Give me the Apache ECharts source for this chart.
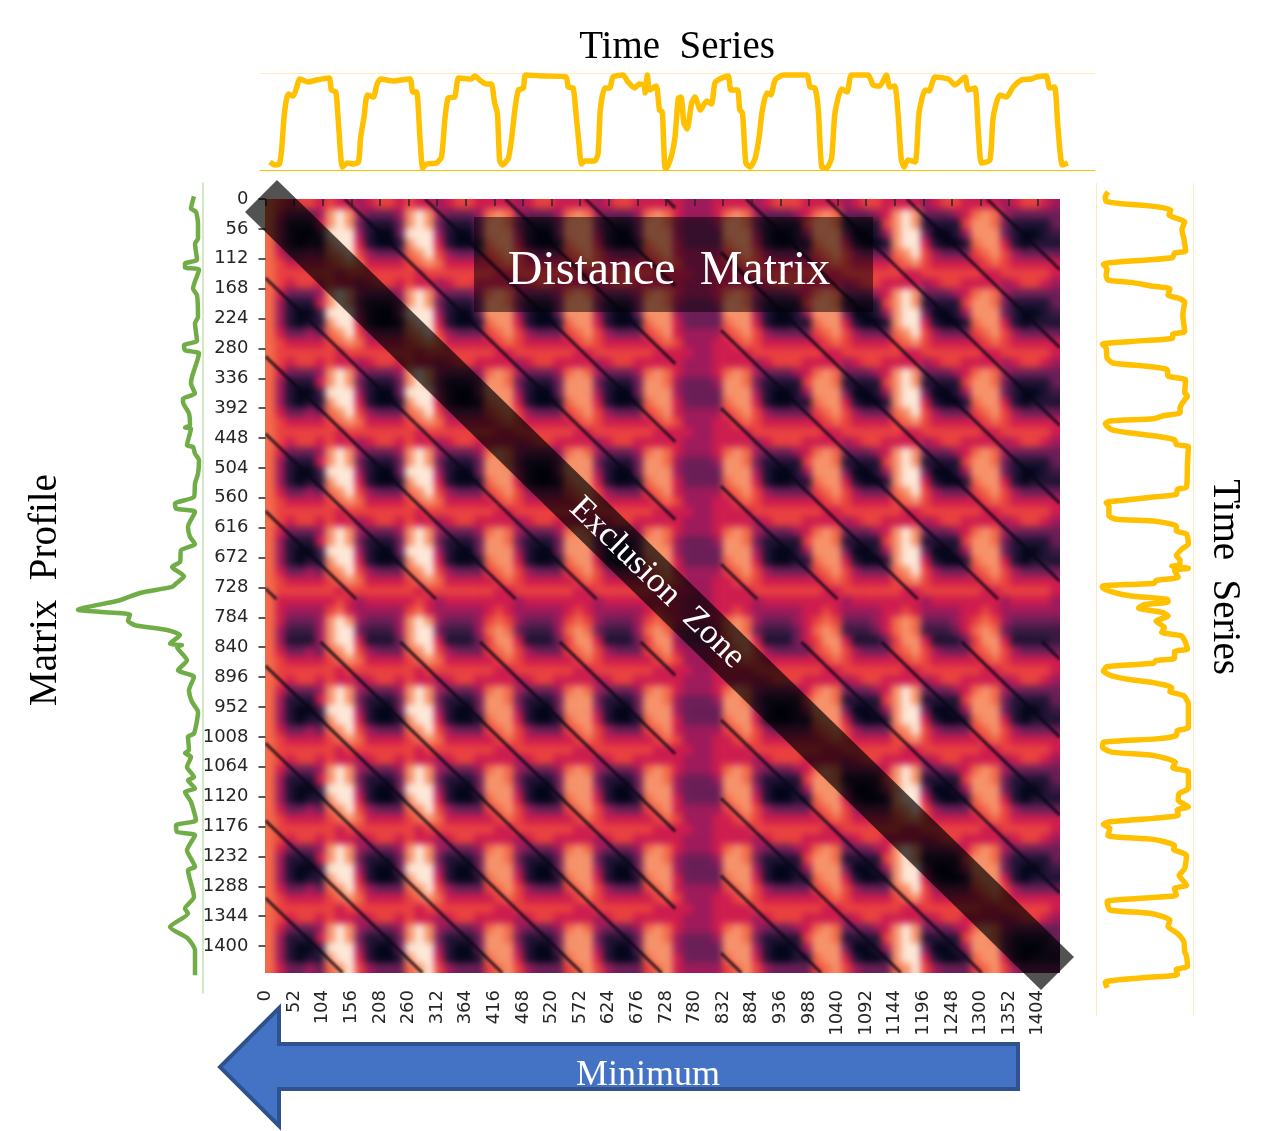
<!DOCTYPE html>
<html><head><meta charset="utf-8">
<style>
html,body{margin:0;padding:0;background:#fff}
#c{width:1270px;height:1131px;background:#fff}
#c canvas[data-zr-dom-id="zr_0"]{filter:blur(3.5px);clip-path:inset(199px 210px 158px 265.5px)}
#c canvas[data-zr-dom-id="zr_1"]{filter:blur(0.8px);clip-path:inset(199px 210px 158px 265.5px)}
</style>
<script src="https://cdn.jsdelivr.net/npm/echarts@6/dist/echarts.min.js"></script>
</head><body><div id="c"></div>
<script>
const tsSamples=[0,9,17,21,25,29,33,42,48,54,69,84,107,111,119,123,128,131,140,151,160,164,170,176,187,193,200,223,253,258,265,271,276,283,301,310,316,322,334,341,364,370,379,391,400,406,411,415,420,431,437,443,449,458,462,494,535,539,548,553,559,563,569,587,593,597,605,614,620,638,647,659,667,676,678,682,686,698,704,709,714,717,726,732,738,743,748,754,762,768,778,789,798,804,813,828,833,845,849,854,860,868,877,884,889,898,905,913,928,970,976,985,991,997,1006,1015,1021,1033,1043,1051,1081,1090,1102,1114,1120,1129,1135,1141,1146,1153,1166,1173,1184,1191,1202,1226,1238,1256,1262,1274,1280,1286,1301,1307,1319,1331,1343,1358,1376,1385,1403,1409,1418,1424,1432,1442];
const tsValues=[8,5,6,20,50,68,76,74,82,91,88,90,92,80,78,53,13,3,7,6,8,33,53,75,73,85,91,89,91,78,78,33,2,6,7,13,50,72,73,92,91,94,90,86,86,67,57,10,5,12,33,62,80,82,95,94,93,83,82,57,23,6,9,9,17,60,82,82,93,95,88,82,86,85,77,95,80,84,60,58,2,2,15,33,72,73,47,41,67,73,60,69,66,87,91,94,80,80,60,57,7,3,12,33,57,77,75,90,95,95,83,82,60,3,2,12,57,81,78,95,95,85,84,95,83,84,57,10,3,10,8,57,80,79,93,91,85,93,80,82,40,7,10,53,75,73,83,90,91,93,94,82,83,43,5,7];
const mpSamples=[2,24,30,51,78,87,116,123,130,134,168,180,219,231,262,270,279,285,327,339,357,366,372,393,414,418,420,450,453,465,477,501,519,543,555,564,570,597,615,628,639,660,669,686,699,705,716,729,746,755,766,774,783,792,807,810,813,837,855,867,891,912,930,969,975,999,1004,1011,1029,1047,1053,1068,1074,1092,1125,1134,1146,1152,1179,1209,1215,1263,1284,1293,1317,1338,1359,1404];
const mpValues=[9,12,7,5,5,8,6,18,18,4,10,6,5,8,6,19,18,4,11,12,8,20,20,14,13,18,12,16,10,8,4,5,8,9,28,27,8,15,13,8,22,23,31,19,27,31,63,83,125,73,75,68,35,23,33,21,26,16,25,9,14,11,5,9,15,14,18,12,16,9,15,8,18,12,7,27,26,8,16,8,15,9,18,15,33,15,8,8];
const xTickLabels=[0,52,104,156,208,260,312,364,416,468,520,572,624,676,728,780,832,884,936,988,1040,1092,1144,1196,1248,1300,1352,1404];
const yTickLabels=[0,56,112,168,224,280,336,392,448,504,560,616,672,728,784,840,896,952,1008,1064,1120,1176,1232,1288,1344,1400];
const valleyLags=[-1310,-1165,-1020,-875,-730,-585,-440,-295,-148,144,290,436,582,728,874,1020,1166,1312];
const faintRows=[750,830];
const faintCols=[745,828];
const matrixRows=[
'765665 655 45665 655 45665 555 45665 555 45665 555 54445 555 456665 555 45665 555 45665 555 456654',
'753334 898 43334 898 43334 787 43334 787 43334 787 54445 787 433345 787 33345 898 33345 787 433333',
'741115 898 31113 898 31113 887 31113 888 31113 887 43334 887 311116 887 11116 898 11116 887 311113',
'741002 999 41003 999 41003 888 41003 888 41003 888 43333 888 410014 888 30014 899 30014 888 310012',
'741011 899 51001 899 51001 788 51001 788 51001 788 53333 788 510011 788 51001 899 51001 788 510111',
'753343 789 64333 789 64333 678 64333 678 64333 678 54444 678 643333 678 64333 789 64333 678 643333',
'765555 678 75555 678 75555 567 65555 567 65555 567 64445 567 655555 567 65555 678 65555 567 655555',
'766666 656 66666 656 66666 655 66666 655 66666 655 55445 555 666666 655 66666 655 66666 655 666665',
'765665 655 45665 655 45665 555 45665 555 45665 555 54445 555 456665 555 45665 555 45665 555 456654',
'753334 898 43334 898 43334 787 43334 787 43334 787 54445 787 433345 787 33345 898 33345 787 433333',
'741115 898 31113 898 31113 887 31113 888 31113 887 43334 887 311116 887 11116 898 11116 887 311113',
'741002 999 41003 999 41003 888 41003 888 41003 888 43333 888 410014 888 30014 899 30014 888 310012',
'741011 899 51001 899 51001 788 51001 788 51001 788 53333 788 510011 788 51001 899 51001 788 510111',
'753343 789 64333 789 64333 678 64333 678 64333 678 54444 678 643333 678 64333 789 64333 678 643333',
'765555 678 75555 678 75555 567 65555 567 65555 567 64445 567 655555 567 65555 678 65555 567 655555',
'766666 656 66666 656 66666 655 66666 655 66666 655 55445 555 666666 655 66666 655 66666 655 666665',
'765665 655 45665 655 45665 555 45665 555 45665 555 54445 555 456665 555 45665 555 45665 555 456654',
'753334 898 43334 898 43334 787 43334 787 43334 787 54445 787 433345 787 33345 898 33345 787 433333',
'741115 898 31113 898 31113 887 31113 888 31113 887 43334 887 311116 887 11116 898 11116 887 311113',
'741002 999 41003 999 41003 888 41003 888 41003 888 43333 888 410014 888 30014 899 30014 888 310012',
'741011 899 51001 899 51001 788 51001 788 51001 788 53333 788 510011 788 51001 899 51001 788 510111',
'753343 789 64333 789 64333 678 64333 678 64333 678 54444 678 643333 678 64333 789 64333 678 643333',
'765555 678 75555 678 75555 567 65555 567 65555 567 64445 567 655555 567 65555 678 65555 567 655555',
'766666 656 66666 656 66666 655 66666 655 66666 655 55445 555 666666 655 66666 655 66666 655 666665',
'765665 655 45665 655 45665 555 45665 555 45665 555 54445 555 456665 555 45665 555 45665 555 456654',
'753334 898 43334 898 43334 787 43334 787 43334 787 54445 787 433345 787 33345 898 33345 787 433333',
'741115 898 31113 898 31113 887 31113 888 31113 887 43334 887 311116 887 11116 898 11116 887 311113',
'741002 999 41003 999 41003 888 41003 888 41003 888 43333 888 410014 888 30014 899 30014 888 310012',
'741011 899 51001 899 51001 788 51001 788 51001 788 53333 788 510011 788 51001 899 51001 788 510111',
'753343 789 64333 789 64333 678 64333 678 64333 678 54444 678 643333 678 64333 789 64333 678 643333',
'765555 678 75555 678 75555 567 65555 567 65555 567 64445 567 655555 567 65555 678 65555 567 655555',
'766666 656 66666 656 66666 655 66666 655 66666 655 55445 555 666666 655 66666 655 66666 655 666665',
'765665 655 45665 655 45665 555 45665 555 45665 555 54445 555 456665 555 45665 555 45665 555 456654',
'753334 898 43334 898 43334 787 43334 787 43334 787 54445 787 433345 787 33345 898 33345 787 433333',
'741115 898 31113 898 31113 887 31113 888 31113 887 43334 887 311116 887 11116 898 11116 887 311113',
'741002 999 41003 999 41003 888 41003 888 41003 888 43333 888 410014 888 30014 899 30014 888 310012',
'741011 899 51001 899 51001 788 51001 788 51001 788 53333 788 510011 788 51001 899 51001 788 510111',
'753343 789 64333 789 64333 678 64333 678 64333 678 54444 678 643333 678 64333 789 64333 678 643333',
'765555 678 75555 678 75555 567 65555 567 65555 567 64445 567 655555 567 65555 678 65555 567 655555',
'766666 656 66666 656 66666 655 66666 655 66666 655 55445 555 666666 655 66666 655 66666 655 666665',
'755555 565 45555 565 45555 555 45555 555 45555 555 54445 555 455555 555 45555 555 45555 555 455554',
'754444 675 44444 675 44444 565 44444 565 44444 565 54445 565 444445 565 44445 565 44445 565 444444',
'753334 898 43334 898 43334 676 43334 676 43334 676 54445 787 433345 676 33345 787 33345 676 433333',
'742224 899 32224 899 32224 787 32224 787 32224 787 43334 787 322235 787 22235 787 22235 787 322222',
'741114 899 51113 899 51113 688 51113 688 51113 688 43334 688 511135 688 51113 688 51113 688 511112',
'753343 789 64333 789 64333 678 64333 678 64333 678 54444 678 643333 678 64333 678 64333 678 643333',
'765555 678 75555 678 75555 567 65555 567 65555 567 64445 567 655555 567 65555 567 65555 567 655555',
'766666 656 66666 656 66666 655 66666 655 66666 655 55445 555 666666 655 66666 655 66666 655 666665',
'765665 655 45665 655 45665 555 45665 555 45665 555 54445 555 456665 555 45665 555 45665 555 456654',
'753334 898 43334 898 43334 787 43334 787 43334 787 54445 787 433345 787 33345 898 33345 787 433333',
'741115 898 31113 898 31113 887 31113 888 31113 887 43334 887 311116 887 11116 898 11116 887 311113',
'741002 999 41003 999 41003 888 41003 888 41003 888 43333 888 410014 888 30014 899 30014 888 310012',
'741011 899 51001 899 51001 788 51001 788 51001 788 53333 788 510011 788 51001 899 51001 788 510111',
'753343 789 64333 789 64333 678 64333 678 64333 678 54444 678 643333 678 64333 789 64333 678 643333',
'765555 678 75555 678 75555 567 65555 567 65555 567 64445 567 655555 567 65555 678 65555 567 655555',
'766666 656 66666 656 66666 655 66666 655 66666 655 55445 555 666666 655 66666 655 66666 655 666665',
'765665 655 45665 655 45665 555 45665 555 45665 555 54445 555 456665 555 45665 555 45665 555 456654',
'753334 898 43334 898 43334 787 43334 787 43334 787 54445 787 433345 787 33345 898 33345 787 433333',
'741115 898 31113 898 31113 887 31113 888 31113 887 43334 887 311116 887 11116 898 11116 887 311113',
'741002 999 41003 999 41003 888 41003 888 41003 888 43333 888 410014 888 30014 899 30014 888 310012',
'741011 899 51001 899 51001 788 51001 788 51001 788 53333 788 510011 788 51001 899 51001 788 510111',
'753343 789 64333 789 64333 678 64333 678 64333 678 54444 678 643333 678 64333 789 64333 678 643333',
'765555 678 75555 678 75555 567 65555 567 65555 567 64445 567 655555 567 65555 678 65555 567 655555',
'766666 656 66666 656 66666 655 66666 655 66666 655 55445 555 666666 655 66666 655 66666 655 666665',
'765665 655 45665 655 45665 555 45665 555 45665 555 54445 555 456665 555 45665 555 45665 555 456654',
'753334 898 43334 898 43334 787 43334 787 43334 787 54445 787 433345 787 33345 898 33345 787 433333',
'741115 898 31113 898 31113 887 31113 888 31113 887 43334 887 311116 887 11116 898 11116 887 311113',
'741002 999 41003 999 41003 888 41003 888 41003 888 43333 888 410014 888 30014 899 30014 888 310012',
'741011 899 51001 899 51001 788 51001 788 51001 788 53333 788 510011 788 51001 899 51001 788 510111',
'753343 789 64333 789 64333 678 64333 678 64333 678 54444 678 643333 678 64333 789 64333 678 643333',
'765555 678 75555 678 75555 567 65555 567 65555 567 64445 567 655555 567 65555 678 65555 567 655555',
'766666 656 66666 656 66666 655 66666 655 66666 655 55445 555 666666 655 66666 655 66666 655 666665',
'765665 655 45665 655 45665 555 45665 555 45665 555 54445 555 456665 555 45665 555 45665 555 456654',
'753334 898 43334 898 43334 787 43334 787 43334 787 54445 787 433345 787 33345 898 33345 787 433333',
'741115 898 31113 898 31113 887 31113 888 31113 887 43334 887 311116 887 11116 898 11116 887 311113',
'741002 999 41003 999 41003 888 41003 888 41003 888 43333 888 410014 888 30014 899 30014 888 310012',
'741011 899 51001 899 51001 788 51001 788 51001 788 53333 788 510011 788 51001 899 51001 788 510111',
'753343 789 64333 789 64333 678 64333 678 64333 678 54444 678 643333 678 64333 789 64333 678 643333'
];
const rocket=['#03051a','#1f1233','#3b1a42','#6b1e56','#9e1a5b','#cd1c4e','#e9403f','#f26a49','#f6926a','#fde8d8'];

const MAXX=1444.5, MAXY=1450.5;
const cells=[];
const rows=matrixRows.map(r=>r.replace(/ /g,''));
const dy=MAXY/rows.length;
rows.forEach((r,j)=>{const dx=MAXX/r.length;for(let i=0;i<r.length;i++)cells.push([i*dx,j*dy,+r[i],dx,dy,i===0?1:0,i===r.length-1?1:0,j===0?1:0,j===rows.length-1?1:0]);});
const valleySegs=[];
function pushLag(L){
  const x0=Math.max(0,L),x1=Math.min(MAXX,MAXY+L);
  const cuts=[x0,x1,faintCols[0],faintCols[1],faintRows[0]+L,faintRows[1]+L].filter(v=>v>=x0&&v<=x1).sort((a,b)=>a-b);
  for(let k=0;k<cuts.length-1;k++){
    const a=cuts[k],b=cuts[k+1],m=(a+b)/2;
    if(m>faintCols[0]&&m<faintCols[1])continue;
    if(m-L>faintRows[0]&&m-L<faintRows[1])continue;
    valleySegs.push([a,a-L,b,b-L]);
  }
}
valleyLags.forEach(pushLag);

const font='"Liberation Serif","Times New Roman",serif';
const txt=(t,x,y,size,color,rot)=>({type:'text',zlevel:2,z:100,x,y,rotation:rot||0,silent:true,
  style:{text:t,fill:color,font:size+'px '+font,align:'center',verticalAlign:'middle'}});
const tickFont={color:'#262626',fontFamily:'DejaVu Sans',fontSize:18,formatter:v=>String(v)};
const tickLine={color:'#262626',width:1.5};
const hidden={show:false};
const chart=echarts.init(document.getElementById('c'),null,{renderer:'canvas',width:1270,height:1131});
chart.setOption({
  animation:false,
  tooltip:{show:false},
  grid:[
    {left:265.5,top:199,width:794.5,height:774},
    {left:260,top:73,width:835,height:97},
    {left:70,top:183,width:133,height:810},
    {left:1096,top:183,width:97,height:833}
  ],
  xAxis:[
    {gridIndex:0,type:'value',min:0,max:MAXX,zlevel:2,position:'bottom',offset:2,splitLine:hidden,axisLine:hidden,
      axisTick:{show:true,length:7,lineStyle:tickLine,customValues:xTickLabels},
      axisLabel:{...tickFont,rotate:90,margin:15,customValues:xTickLabels}},
    {gridIndex:1,type:'value',min:-18,max:1491,zlevel:2,splitLine:hidden,axisTick:hidden,axisLabel:hidden,
      axisLine:{show:true,onZero:false,lineStyle:{color:'#FFC000',width:1}}},
    {gridIndex:2,type:'value',min:0,max:133,inverse:true,zlevel:2,splitLine:hidden,axisTick:hidden,axisLabel:hidden,axisLine:hidden},
    {gridIndex:3,type:'value',min:-5,max:100,interval:105,zlevel:2,axisTick:hidden,axisLabel:hidden,axisLine:hidden,
      splitLine:{show:true,lineStyle:{color:'#FCEBC0',width:1}}}
  ],
  yAxis:[
    {gridIndex:0,type:'value',min:0,max:MAXY,inverse:true,zlevel:2,splitLine:hidden,axisLine:hidden,
      axisTick:{show:true,length:7,lineStyle:tickLine,customValues:yTickLabels},
      axisLabel:{...tickFont,margin:17,customValues:yTickLabels}},
    {gridIndex:1,type:'value',min:0,max:97,interval:97,zlevel:2,axisTick:hidden,axisLabel:hidden,axisLine:hidden,
      splitLine:{show:true,lineStyle:{color:'#FCEBC0',width:1}}},
    {gridIndex:2,type:'value',min:-22,max:1436,inverse:true,position:'right',zlevel:2,splitLine:hidden,axisTick:hidden,axisLabel:hidden,
      axisLine:{show:true,onZero:false,lineStyle:{color:'#C5E0B4',width:1.5}}},
    {gridIndex:3,type:'value',min:-16,max:1493,inverse:true,zlevel:2,splitLine:hidden,axisTick:hidden,axisLabel:hidden,axisLine:hidden}
  ],
  visualMap:{show:false,type:'continuous',seriesIndex:0,dimension:2,min:0,max:9,inRange:{color:rocket}},
  series:[
    {type:'custom',xAxisIndex:0,yAxisIndex:0,zlevel:0,progressive:0,data:cells,encode:{x:0,y:1},silent:true,
      renderItem(p,api){
        const a=api.coord([api.value(0),api.value(1)]),b=api.coord([api.value(0)+api.value(3),api.value(1)+api.value(4)]);
        const pad=12,l=api.value(5)*pad,r=api.value(6)*pad,t=api.value(7)*pad,d=api.value(8)*pad;
        return {type:'rect',shape:{x:a[0]-l,y:a[1]-t,width:b[0]-a[0]+.6+l+r,height:b[1]-a[1]+.6+t+d},style:{fill:api.visual('color')}};
      }},
    {type:'custom',xAxisIndex:0,yAxisIndex:0,zlevel:1,progressive:0,data:valleySegs,encode:{x:[0,2],y:[1,3]},silent:true,
      renderItem(p,api){
        const a=api.coord([api.value(0),api.value(1)]),b=api.coord([api.value(2),api.value(3)]);
        return {type:'line',shape:{x1:a[0],y1:a[1],x2:b[0],y2:b[1]},style:{stroke:'#0a0618',lineWidth:3,opacity:.8}};
      }},
    {type:'line',xAxisIndex:1,yAxisIndex:1,zlevel:2,showSymbol:false,symbol:'none',clip:false,smooth:0.2,
      data:tsSamples.map((s,i)=>[s,tsValues[i]]),lineStyle:{color:'#FFC000',width:5.5,join:'round'}},
    {type:'line',xAxisIndex:2,yAxisIndex:2,zlevel:2,showSymbol:false,symbol:'none',clip:false,smooth:0.2,
      data:mpSamples.map((s,i)=>[mpValues[i],s]),lineStyle:{color:'#70AD47',width:4.5,join:'round'}},
    {type:'line',xAxisIndex:3,yAxisIndex:3,zlevel:2,showSymbol:false,symbol:'none',clip:false,smooth:0.2,
      data:tsSamples.map((s,i)=>[tsValues[i],s]),lineStyle:{color:'#FFC000',width:5.5,join:'round'}}
  ],
  graphic:{elements:[
    {type:'polygon',zlevel:2,z:50,silent:true,shape:{points:[[277,180],[1074,957],[1041,990],[245,212]]},style:{fill:'rgba(0,0,0,0.68)'}},
    {type:'rect',zlevel:2,z:50,silent:true,shape:{x:474,y:217,width:399,height:95},style:{fill:'rgba(0,0,0,0.5)'}},
    {type:'polygon',zlevel:2,z:50,silent:true,shape:{points:[[1018,1044],[279,1044],[279,1008],[220,1067],[279,1126],[279,1089],[1018,1089]]},style:{fill:'#4472C4',stroke:'#2F528F',lineWidth:4}},
    txt('Time  Series',677,48,39,'#000'),
    txt('Distance  Matrix',669,271,48,'#fff'),
    txt('Matrix  Profile',46,590,39,'#000',Math.PI/2),
    txt('Time  Series',1224,577,39,'#000',-Math.PI/2),
    txt('Exclusion  Zone',657,583,35,'#fff',-0.77),
    txt('Minimum',648,1076,36,'#fff')
  ]}
});
</script></body></html>
